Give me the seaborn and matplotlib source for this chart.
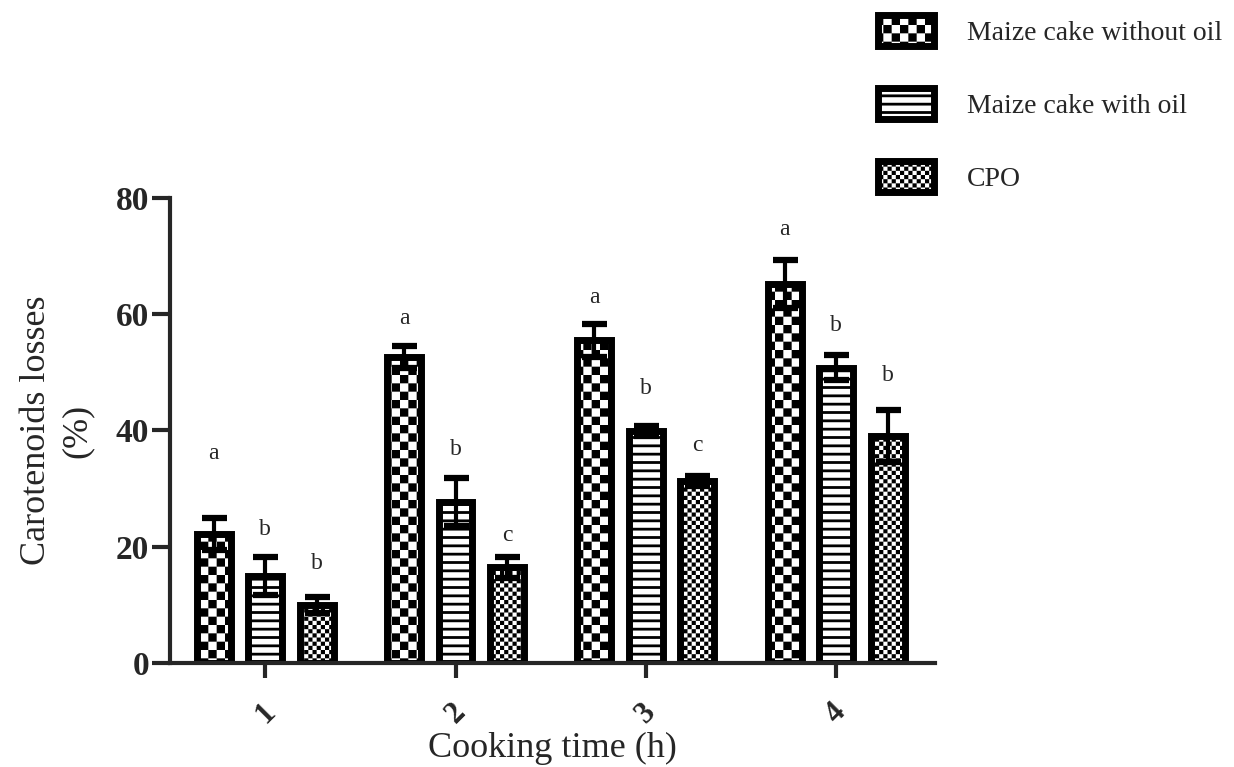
import numpy as np
import pandas as pd
import matplotlib
matplotlib.use('Agg')
import matplotlib.pyplot as plt
import matplotlib.hatch as mhatch
from matplotlib.path import Path
import seaborn as sns

cooking_time = ['1', '2', '3', '4']
samples = ['Maize cake without oil', 'Maize cake with oil', 'CPO']

# mean carotenoid losses (%) per cooking time
loss_without_oil = [22.2, 52.7, 55.5, 65.2]
loss_with_oil = [15.0, 27.7, 39.9, 50.8]
loss_cpo = [10.0, 16.5, 31.3, 39.1]

# standard deviations
sd_without_oil = [2.8, 1.9, 2.9, 4.2]
sd_with_oil = [3.3, 4.2, 0.9, 2.2]
sd_cpo = [1.4, 1.8, 0.9, 4.5]

# significance letters and the height they are written at
letters_without_oil = ['a', 'a', 'a', 'a']
letters_with_oil = ['b', 'b', 'b', 'b']
letters_cpo = ['b', 'c', 'c', 'b']
letter_y_without_oil = [36.0, 59.2, 62.8, 74.5]
letter_y_with_oil = [22.9, 36.8, 47.2, 58.0]
letter_y_cpo = [17.2, 22.0, 37.5, 49.4]


class CheckerHatch(mhatch.HatchPatternBase):
    """Reuse '*' as a checkerboard hatch: every '*' adds 2 squares per inch"""
    def __init__(self, hatch, density):
        self.num_cells = 2 * hatch.count('*')
        self.num_vertices = 5 * (self.num_cells ** 2 // 2)

    def set_vertices_and_codes(self, vertices, codes):
        n = self.num_cells
        # the hatch path is stroked too, so pull the squares in a bit
        shrink = plt.rcParams['hatch.linewidth'] / 2 / 72
        squares = []
        for i in range(n):
            for j in range(n):
                if (i + j) % 2 == 0:
                    x0, y0 = i / n + shrink, j / n + shrink
                    x1, y1 = (i + 1) / n - shrink, (j + 1) / n - shrink
                    squares.append([[x0, y0], [x1, y0], [x1, y1], [x0, y1], [x0, y0]])
        vertices[:] = np.array(squares).reshape(-1, 2)
        codes[:] = np.tile([Path.MOVETO, Path.LINETO, Path.LINETO,
                            Path.LINETO, Path.CLOSEPOLY], len(squares))


mhatch._hatch_types = [t for t in mhatch._hatch_types if t is not mhatch.Stars] + [CheckerHatch]

sns.set_style('ticks')
plt.rcParams['font.family'] = ['Liberation Serif', 'DejaVu Serif']
plt.rcParams['hatch.linewidth'] = 2.0
plt.rcParams['hatch.color'] = 'black'

df = pd.DataFrame({
    'time': cooking_time * 3,
    'sample': np.repeat(samples, len(cooking_time)),
    'loss': loss_without_oil + loss_with_oil + loss_cpo,
})

fig = plt.figure(figsize=(12.34, 7.67), dpi=100)
ax = fig.add_axes([0.1378, 0.1356, 0.620, 0.6063])

sns.barplot(data=df, x='time', y='loss', hue='sample', order=cooking_time,
            hue_order=samples, palette=['white'] * 3, edgecolor='black',
            linewidth=5, width=0.81, gap=0.34, errorbar=None, legend=False, ax=ax)

hatches = ['******', '--', '*' * 12]
sds = [sd_without_oil, sd_with_oil, sd_cpo]
means = [loss_without_oil, loss_with_oil, loss_cpo]
letters = [letters_without_oil, letters_with_oil, letters_cpo]
letter_y = [letter_y_without_oil, letter_y_with_oil, letter_y_cpo]

for container, hatch, m, sd, lt, ly in zip(ax.containers, hatches, means, sds, letters, letter_y):
    xc = [bar.get_x() + bar.get_width() / 2 for bar in container]
    for bar in container:
        bar.set_hatch(hatch)
    ax.errorbar(xc, m, yerr=sd, fmt='none', ecolor='black', elinewidth=3,
                capsize=9, capthick=4.5, zorder=3)
    for x, y, s in zip(xc, ly, lt):
        ax.text(x, y, s, ha='center', va='center', fontsize=17)

ax.set_xlim(-0.5, 3.52)
ax.set_ylim(0, 80)
ax.set_yticks([0, 20, 40, 60, 80])
sns.despine(ax=ax)
for side in ['left', 'bottom']:
    ax.spines[side].set_linewidth(3)

ax.tick_params(axis='y', direction='out', length=13, width=3, labelsize=24, pad=2)
ax.tick_params(axis='x', direction='out', length=11, width=3, labelsize=22, pad=14,
               labelrotation=45)
plt.setp(ax.get_yticklabels(), fontweight='bold')
plt.setp(ax.get_xticklabels(), fontweight='bold')

ax.set_xlabel('Cooking time (h)', fontsize=26, labelpad=2)
ax.set_ylabel('Carotenoids losses\n(%)', fontsize=26, labelpad=16, linespacing=1.3)

fig.legend(ax.containers, samples, loc='upper left',
           bbox_to_anchor=(878 / 1234, 1 - 15 / 767), frameon=False, fontsize=20,
           handlelength=2.0, handleheight=1.35, handletextpad=1.2, labelspacing=1.5,
           borderpad=0, borderaxespad=0)

fig.savefig('out.png', dpi=100)
